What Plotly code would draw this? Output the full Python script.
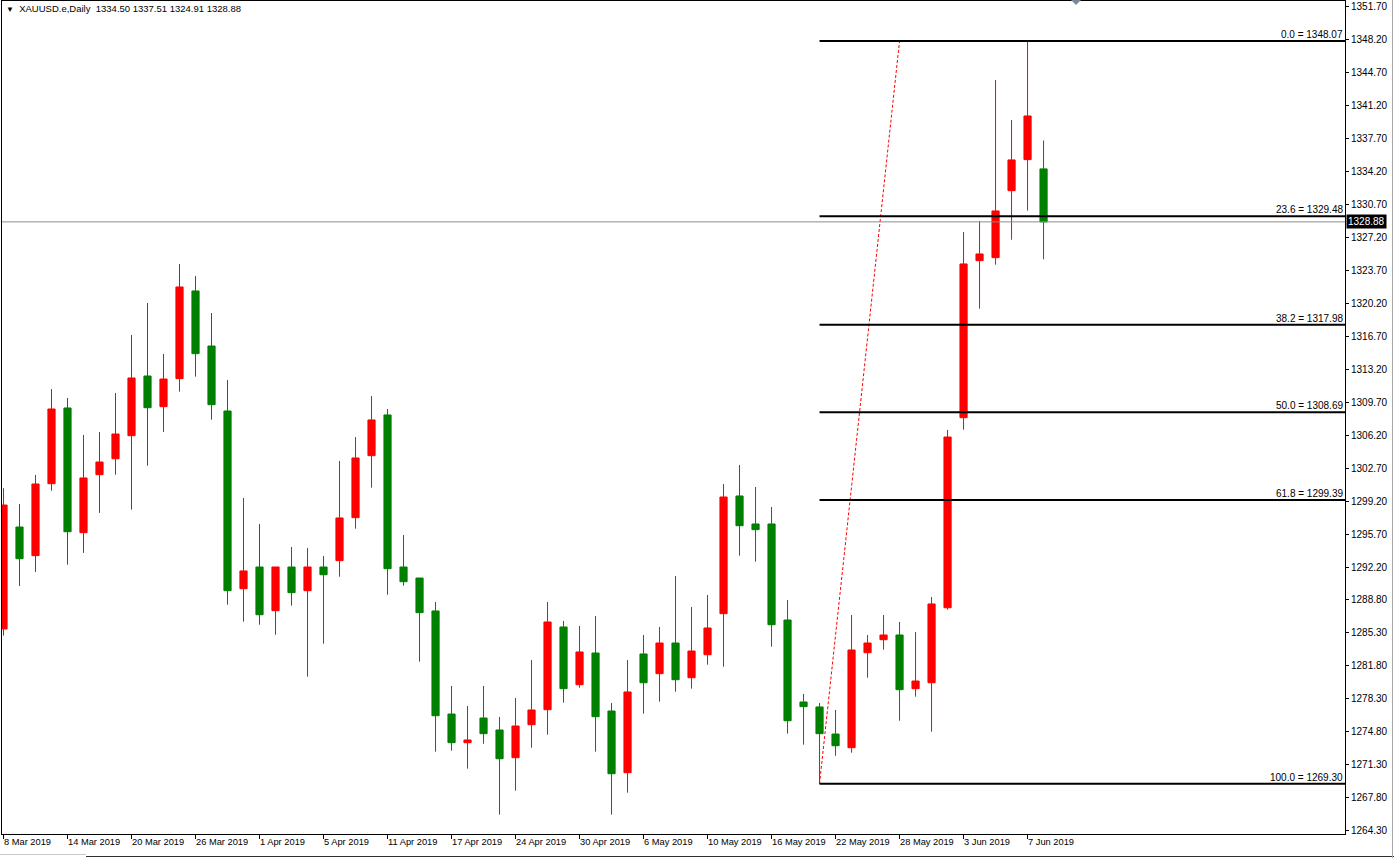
import plotly.graph_objects as go

# ---------------- data ----------------
dates = [
    "2019-03-08", "2019-03-11", "2019-03-12", "2019-03-13", "2019-03-14",
    "2019-03-15", "2019-03-18", "2019-03-19", "2019-03-20", "2019-03-21",
    "2019-03-22", "2019-03-25", "2019-03-26", "2019-03-27", "2019-03-28",
    "2019-03-29", "2019-04-01", "2019-04-02", "2019-04-03", "2019-04-04",
    "2019-04-05", "2019-04-08", "2019-04-09", "2019-04-10", "2019-04-11",
    "2019-04-12", "2019-04-15", "2019-04-16", "2019-04-17", "2019-04-18",
    "2019-04-22", "2019-04-23", "2019-04-24", "2019-04-25", "2019-04-26",
    "2019-04-29", "2019-04-30", "2019-05-01", "2019-05-02", "2019-05-03",
    "2019-05-06", "2019-05-07", "2019-05-08", "2019-05-09", "2019-05-10",
    "2019-05-13", "2019-05-14", "2019-05-15", "2019-05-16", "2019-05-17",
    "2019-05-20", "2019-05-21", "2019-05-22", "2019-05-23", "2019-05-24",
    "2019-05-27", "2019-05-28", "2019-05-29", "2019-05-30", "2019-05-31",
    "2019-06-03", "2019-06-04", "2019-06-05", "2019-06-06", "2019-06-07",
    "2019-06-10",
]

opens = [1285.72, 1296.53, 1293.49, 1301.12, 1309.15, 1295.93, 1302.08, 1303.77, 1306.21, 1312.54,
         1309.29, 1312.26, 1321.56, 1315.72, 1308.83, 1289.99, 1292.29, 1287.66, 1292.29, 1289.78,
         1292.29, 1292.96, 1297.52, 1304.09, 1308.41, 1292.29, 1291.12, 1287.63, 1276.70, 1273.66,
         1276.28, 1275.01, 1272.07, 1275.57, 1277.16, 1285.93, 1279.81, 1283.17, 1277.02, 1270.48,
         1283.07, 1280.98, 1284.23, 1280.55, 1282.99, 1287.34, 1299.82, 1296.85, 1296.85, 1286.67,
         1277.98, 1277.45, 1274.58, 1273.13, 1283.20, 1284.58, 1285.08, 1279.39, 1280.02, 1287.97,
         1308.12, 1324.77, 1325.09, 1332.19, 1335.48, 1334.50]
highs = [1300.64, 1298.97, 1302.05, 1311.16, 1310.21, 1306.29, 1306.61, 1310.74, 1316.89, 1320.28,
         1314.88, 1324.42, 1323.15, 1319.22, 1312.12, 1299.61, 1296.85, 1292.29, 1294.41, 1294.31,
         1293.46, 1303.53, 1306.07, 1310.42, 1309.04, 1295.68, 1291.12, 1288.58, 1279.67, 1277.55,
         1279.67, 1276.39, 1278.40, 1282.43, 1288.58, 1286.57, 1286.04, 1287.10, 1277.87, 1282.43,
         1285.08, 1285.93, 1291.34, 1288.05, 1289.32, 1301.09, 1303.11, 1300.77, 1298.65, 1288.79,
         1278.83, 1277.87, 1277.13, 1287.20, 1285.08, 1287.20, 1286.46, 1285.40, 1289.11, 1306.82,
         1327.81, 1328.98, 1343.93, 1339.69, 1348.07, 1337.51]
lows = [1285.01, 1290.28, 1291.76, 1300.38, 1292.53, 1293.78, 1298.02, 1302.08, 1298.37, 1303.03,
        1306.61, 1310.88, 1312.47, 1307.91, 1288.29, 1286.49, 1286.17, 1285.11, 1288.19, 1280.66,
        1284.16, 1291.26, 1296.35, 1300.70, 1289.35, 1290.31, 1282.25, 1272.71, 1272.81, 1270.91,
        1273.55, 1266.03, 1268.57, 1273.13, 1274.51, 1277.90, 1279.49, 1272.71, 1266.03, 1268.36,
        1276.74, 1278.01, 1279.07, 1279.39, 1281.93, 1281.72, 1293.49, 1292.85, 1283.84, 1274.62,
        1273.45, 1269.30, 1272.28, 1272.60, 1280.55, 1283.52, 1275.99, 1278.54, 1274.83, 1287.76,
        1306.85, 1319.68, 1324.34, 1326.99, 1330.07, 1324.91]
closes = [1298.86, 1293.17, 1301.09, 1309.04, 1296.03, 1301.73, 1303.42, 1306.39, 1312.33, 1309.18,
          1312.22, 1321.98, 1314.91, 1309.50, 1289.78, 1291.87, 1287.23, 1292.29, 1289.57, 1292.29,
          1291.47, 1297.49, 1303.85, 1307.88, 1292.11, 1290.73, 1287.45, 1276.52, 1273.66, 1273.95,
          1274.62, 1271.96, 1275.43, 1277.13, 1286.46, 1279.39, 1283.28, 1276.42, 1270.37, 1279.04,
          1280.02, 1284.23, 1280.34, 1283.38, 1285.82, 1299.71, 1296.67, 1296.25, 1286.17, 1275.99,
          1277.48, 1274.62, 1273.34, 1283.49, 1284.23, 1285.08, 1279.28, 1280.20, 1288.37, 1306.07,
          1324.42, 1325.48, 1330.04, 1335.45, 1340.11, 1328.88]

tick_bars = [0, 4, 8, 12, 16, 20, 24, 28, 32, 36, 40, 44, 48, 52, 56, 60, 64]
tick_labels = ["8 Mar 2019", "14 Mar 2019", "20 Mar 2019", "26 Mar 2019", "1 Apr 2019",
               "5 Apr 2019", "11 Apr 2019", "17 Apr 2019", "24 Apr 2019", "30 Apr 2019",
               "6 May 2019", "10 May 2019", "16 May 2019", "22 May 2019", "28 May 2019",
               "3 Jun 2019", "7 Jun 2019"]

price_ticks = [1351.70, 1348.20, 1344.70, 1341.20, 1337.70, 1334.20, 1330.70, 1327.20,
               1323.70, 1320.20, 1316.70, 1313.20, 1309.70, 1306.20, 1302.70, 1299.20,
               1295.70, 1292.20, 1288.80, 1285.30, 1281.80, 1278.30, 1274.80, 1271.30,
               1267.80, 1264.30]

fib_levels = ["0.0", "23.6", "38.2", "50.0", "61.8", "100.0"]
fib_prices = [1348.07, 1329.48, 1317.98, 1308.69, 1299.39, 1269.30]
fib_start_bar = 51
trend_bars = [51, 56]
trend_prices = [1269.30, 1348.07]

last_price = 1328.88
title_text = "XAUUSD.e,Daily"

# ---------------- figure ----------------
W, H = 1394, 858
ML, MR, MT, MB = 2, 49, 1, 24
X_RANGE = [-0.094, 83.84]
Y_RANGE = [1263.98, 1352.30]
FONT = "Liberation Sans, Arial, sans-serif"

bars = list(range(len(opens)))

fig = go.Figure()
fig.add_trace(go.Candlestick(
    x=bars, open=opens, high=highs, low=lows, close=closes,
    text=dates, hoverinfo="x+y+text",
    increasing=dict(line=dict(color="#ff0000", width=1), fillcolor="#ff0000"),
    decreasing=dict(line=dict(color="#008000", width=1), fillcolor="#008000"),
    whiskerwidth=0, showlegend=False,
))

# fibonacci base (dotted trend line)
fig.add_trace(go.Scatter(
    x=trend_bars, y=trend_prices, mode="lines",
    line=dict(color="#ff0000", width=1, dash="3px,2px"),
    hoverinfo="skip", showlegend=False,
))

shapes = []
annotations = []

# fibonacci levels
for lvl, pr in zip(fib_levels, fib_prices):
    shapes.append(dict(type="line", xref="x", yref="y", x0=fib_start_bar, x1=X_RANGE[1],
                       y0=pr, y1=pr, line=dict(color="#000000", width=2), layer="above"))
    annotations.append(dict(xref="paper", yref="y", x=1, y=pr, xanchor="right", yanchor="bottom",
                            xshift=0, yshift=-1, showarrow=False,
                            text=f"{lvl} = {pr:.2f}",
                            font=dict(family=FONT, size=10, color="#000000")))

# bid line
shapes.append(dict(type="line", xref="paper", yref="y", x0=0, x1=1, y0=last_price, y1=last_price,
                   line=dict(color="#8c8c8c", width=1), layer="above"))
annotations.append(dict(xref="paper", yref="y", x=1, y=last_price, xanchor="left", yanchor="middle",
                        xshift=1, showarrow=False, text=f"{last_price:.2f}", bgcolor="#000000",
                        borderpad=1, font=dict(family=FONT, size=10, color="#ffffff")))

# date labels (left aligned at their tick)
for b, lab in zip(tick_bars, tick_labels):
    annotations.append(dict(xref="x", yref="paper", x=b, y=0, xanchor="left", yanchor="top",
                            xshift=-2, yshift=-1, showarrow=False, text=lab,
                            font=dict(family=FONT, size=9.3, color="#000000")))

# chart header
annotations.append(dict(xref="paper", yref="paper", x=0, y=1, xanchor="left", yanchor="top",
                        xshift=2, yshift=0, showarrow=False,
                        text="<span style='font-size:8px'>▼</span>&nbsp; " + title_text + "&nbsp;&nbsp;"
                             + " ".join(f"{v:.2f}" for v in (opens[-1], highs[-1], lows[-1], closes[-1])),
                        font=dict(family=FONT, size=9.5, color="#000000")))

# window decorations (paper coordinates)
pw, ph = W - ML - MR, H - MT - MB
def px(xp):
    return (xp - ML) / pw
def py(yp):
    return (H - MB - yp) / ph

shapes.append(dict(type="path", xref="paper", yref="paper",
                   path=f"M {px(1071)} {py(0)} L {px(1081)} {py(0)} L {px(1076)} {py(5)} Z",
                   fillcolor="#7d8796", line=dict(width=0)))
shapes.append(dict(type="line", xref="paper", yref="paper", x0=px(0), x1=px(86), y0=py(854.5), y1=py(854.5),
                   line=dict(color="#c8c8c8", width=1)))
shapes.append(dict(type="line", xref="paper", yref="paper", x0=px(86), x1=px(1394), y0=py(856.5), y1=py(856.5),
                   line=dict(color="#303030", width=1)))
shapes.append(dict(type="line", xref="paper", yref="paper", x0=px(1392.5), x1=px(1392.5), y0=py(0), y1=py(858),
                   line=dict(color="#a8a8a8", width=1)))

fig.update_layout(
    width=W, height=H,
    margin=dict(l=ML, r=MR, t=MT, b=MB, pad=0),
    paper_bgcolor="#ffffff", plot_bgcolor="#ffffff",
    boxgap=0.36,
    showlegend=False,
    shapes=shapes, annotations=annotations,
    font=dict(family=FONT, size=10, color="#000000"),
    xaxis=dict(range=X_RANGE, showgrid=False, zeroline=False, showline=True, linecolor="#000000",
               linewidth=1, mirror=True, ticks="outside", ticklen=4, tickcolor="#000000",
               tickvals=tick_bars, showticklabels=False, rangeslider=dict(visible=False),
               fixedrange=True),
    yaxis=dict(range=Y_RANGE, side="right", showgrid=False, zeroline=False, showline=True,
               linecolor="#000000", linewidth=1, mirror=True, ticks="outside", ticklen=3,
               tickcolor="#000000", tickvals=price_ticks,
               ticktext=[f"{v:.2f}" for v in price_ticks],
               tickfont=dict(family=FONT, size=10, color="#000000"), fixedrange=True),
)

fig.write_html("out.html", config={"displayModeBar": False},
               post_script="document.body.style.margin='0';document.body.style.overflow='hidden';")
